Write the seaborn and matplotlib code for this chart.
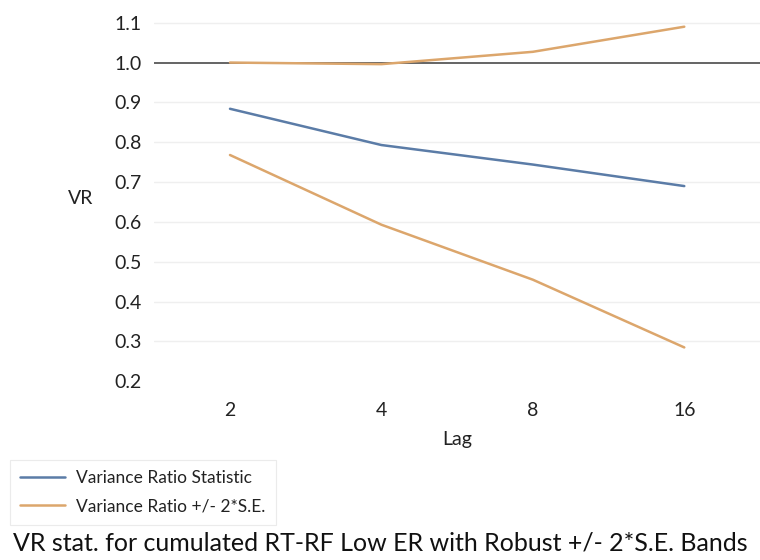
import matplotlib
matplotlib.use("Agg")
import matplotlib.pyplot as plt
import seaborn as sns
import pandas as pd

lags = ["2", "4", "8", "16"]
vr_stat = [0.884, 0.793, 0.744, 0.690]
upper_band = [1.000, 0.996, 1.027, 1.090]
lower_band = [0.768, 0.593, 0.455, 0.285]

blue = "#5B7CA7"
orange = "#DCA66C"

sns.set_theme(style="white")
plt.rcParams["font.family"] = ["Lato", "DejaVu Sans"]

fig = plt.figure(figsize=(7.6, 5.6), dpi=100)
ax = fig.add_axes([0.203, 0.312, 0.797, 0.683])

df_stat = pd.DataFrame({"Lag": lags, "VR": vr_stat})
df_up = pd.DataFrame({"Lag": lags, "VR": upper_band})
df_lo = pd.DataFrame({"Lag": lags, "VR": lower_band})

for y in [0.3, 0.4, 0.5, 0.6, 0.7, 0.8, 0.9, 1.1]:
    ax.axhline(y, color="#efefef", lw=1, zorder=0)
ax.axhline(1.0, color="#3a3a3a", lw=1.1, zorder=1)

sns.lineplot(data=df_stat, x="Lag", y="VR", ax=ax, color=blue, lw=1.8,
             label="Variance Ratio Statistic", sort=False)
sns.lineplot(data=df_up, x="Lag", y="VR", ax=ax, color=orange, lw=1.8,
             label="Variance Ratio +/- 2*S.E.", sort=False)
sns.lineplot(data=df_lo, x="Lag", y="VR", ax=ax, color=orange, lw=1.8,
             label="_nolegend_", sort=False)

ax.set_xlim(-0.5, 3.5)
ax.set_ylim(0.19, 1.15)
ax.set_yticks([0.2, 0.3, 0.4, 0.5, 0.6, 0.7, 0.8, 0.9, 1.0, 1.1])
ax.set_yticklabels(["0.2", "0.3", "0.4", "0.5", "0.6", "0.7", "0.8", "0.9", "1.0", "1.1"])
for s in ax.spines.values():
    s.set_visible(False)
ax.tick_params(axis="both", length=0, labelsize=14, colors="#222222")
ax.tick_params(axis="y", pad=9)
ax.tick_params(axis="x", pad=12)
ax.set_xlabel("Lag", fontsize=14, color="#222222", labelpad=9)
ax.set_ylabel("VR", fontsize=14, color="#222222", rotation=0, labelpad=0)
ax.yaxis.set_label_coords(-0.122, 0.465)

leg = ax.legend(loc="upper left", bbox_to_anchor=(0.013, 0.179), bbox_transform=fig.transFigure,
                frameon=True, fontsize=12.5, handlelength=2.6, borderpad=0.6,
                labelspacing=0.7, fancybox=False, handletextpad=0.6, borderaxespad=0)
leg.get_frame().set_edgecolor("#e6e6e6")
leg.get_frame().set_linewidth(0.8)
for t in leg.get_texts():
    t.set_color("#222222")

fig.text(0.5, 0.03, "VR stat. for cumulated RT-RF Low ER with Robust +/- 2*S.E. Bands",
         ha="center", va="center", fontsize=18, color="#111111")

fig.savefig("out.png", dpi=100)
